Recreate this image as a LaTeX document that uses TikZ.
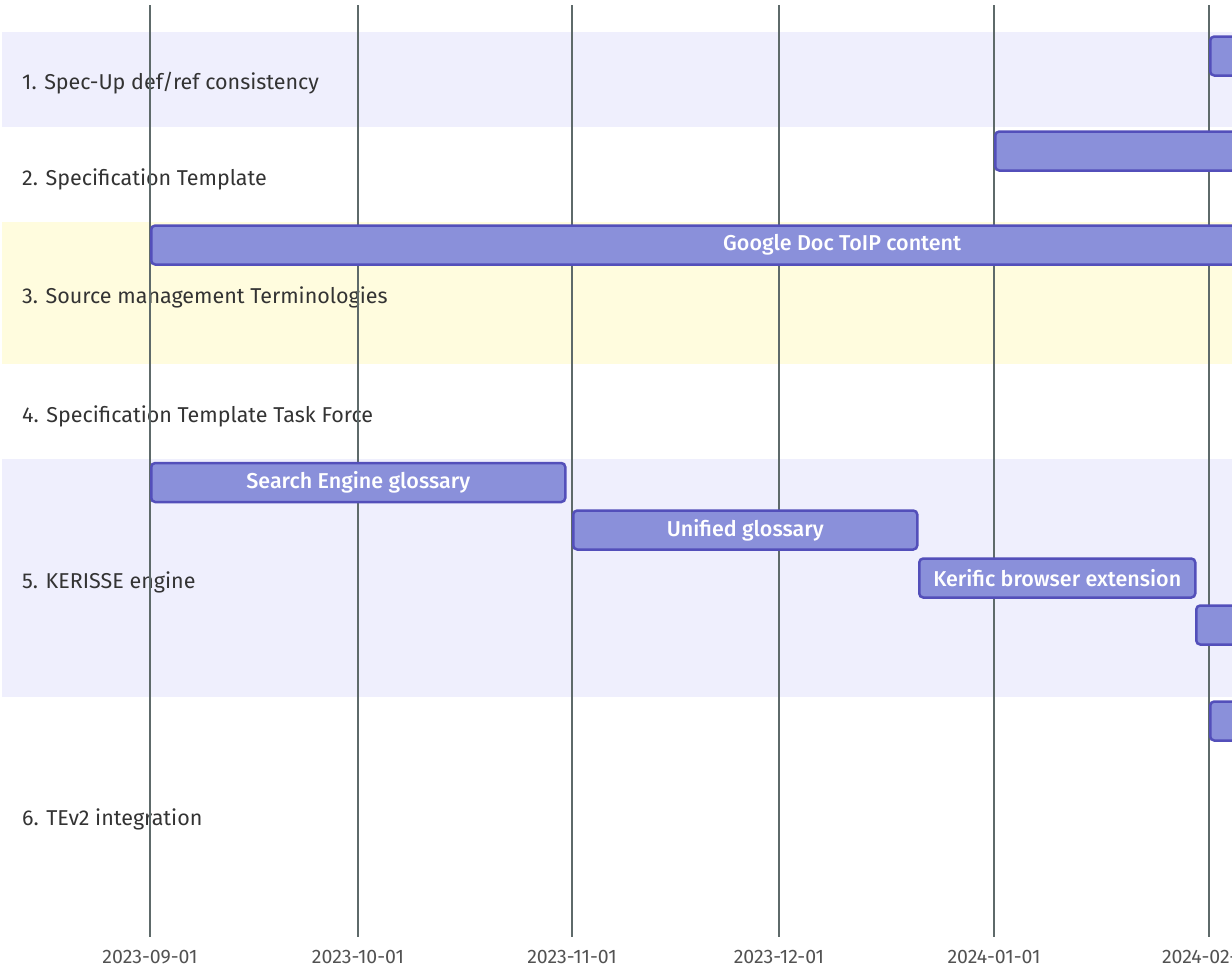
\documentclass[tikz,border=0pt]{standalone}
\usepackage{fontspec}
\setmainfont{Fira Sans}
\newfontfamily\taskfont{Fira Sans}[UprightFont={* Medium}]
\usetikzlibrary{positioning}
\definecolor{bandblue}{RGB}{239,239,253}
\definecolor{bandyellow}{RGB}{255,252,222}
\definecolor{taskfill}{RGB}{138,144,218}
\definecolor{taskline}{RGB}{83,79,186}
\definecolor{gridgrey}{RGB}{94,106,106}
\definecolor{labelgrey}{RGB}{51,51,51}

\begin{document}
\begin{tikzpicture}[x=1pt, y=-1pt,
    band/.style={fill=#1, draw=none},
    gridline/.style={draw=gridgrey, line width=1.5pt},
    task/.style={draw=taskline, line width=2.5pt, fill=taskfill, rounded corners=4pt,
      minimum height=39pt, inner sep=0pt, anchor=west, text=white,
      font=\taskfont\fontsize{21.5}{26}\selectfont},
    rowlabel/.style={anchor=west, inner sep=0pt, text=labelgrey, font=\fontsize{21.5}{26}\selectfont},
    ticklabel/.style={inner sep=0pt, text=labelgrey!85, font=\fontsize{19.5}{23}\selectfont}]
    \useasboundingbox (0,0) rectangle (1232,978);
    \clip (0,0) rectangle (1232,978);

    % Section bands
    \fill[band=bandblue] (2,32) rectangle (1240,127);
    \fill[band=bandyellow] (2,222) rectangle (1240,364);
    \fill[band=bandblue] (2,459) rectangle (1240,697);

    % Row labels
    \node[rowlabel] (spec) at (22,83) {1. Spec-Up def/ref consistency};
    \node[rowlabel] (tmpl) at (22,179) {2. Specification Template};
    \node[rowlabel] (src) at (22,297) {3. Source management Terminologies};
    \node[rowlabel] (force) at (22,416) {4. Specification Template Task Force};
    \node[rowlabel] (kerisse) at (22,582) {5. KERISSE engine};
    \node[rowlabel] (tev) at (22,819) {6. TEv2 integration};

    % Grid lines and dates
    \foreach \x/\d in {150/2023-09-01, 358/2023-10-01, 572/2023-11-01,
                      779/2023-12-01, 994/2024-01-01, 1209/2024-02-01} {
      \draw[gridline] (\x,5) -- (\x,937);
      \node[ticklabel] (t\x) at (\x,957) {\d};
    }

    % Tasks
    \node[task, minimum width=300pt] (defref) at (1209,56) {};
    \node[task, minimum width=400pt] (template) at (994,151) {};
    \node[task, minimum width=1382pt] (gdoc) at (150,245) {Google Doc ToIP content};
    \node[task, minimum width=414pt] (search) at (150,482.5) {Search Engine glossary};
    \node[task, minimum width=344pt] (unified) at (572,530) {Unified glossary};
    \node[task, minimum width=276pt] (kerific) at (918,578) {Kerific browser extension};
    \node[task, minimum width=300pt] (next) at (1195,625) {};
    \node[task, minimum width=300pt] (tevbar) at (1209,721) {};
\end{tikzpicture}
\end{document}
